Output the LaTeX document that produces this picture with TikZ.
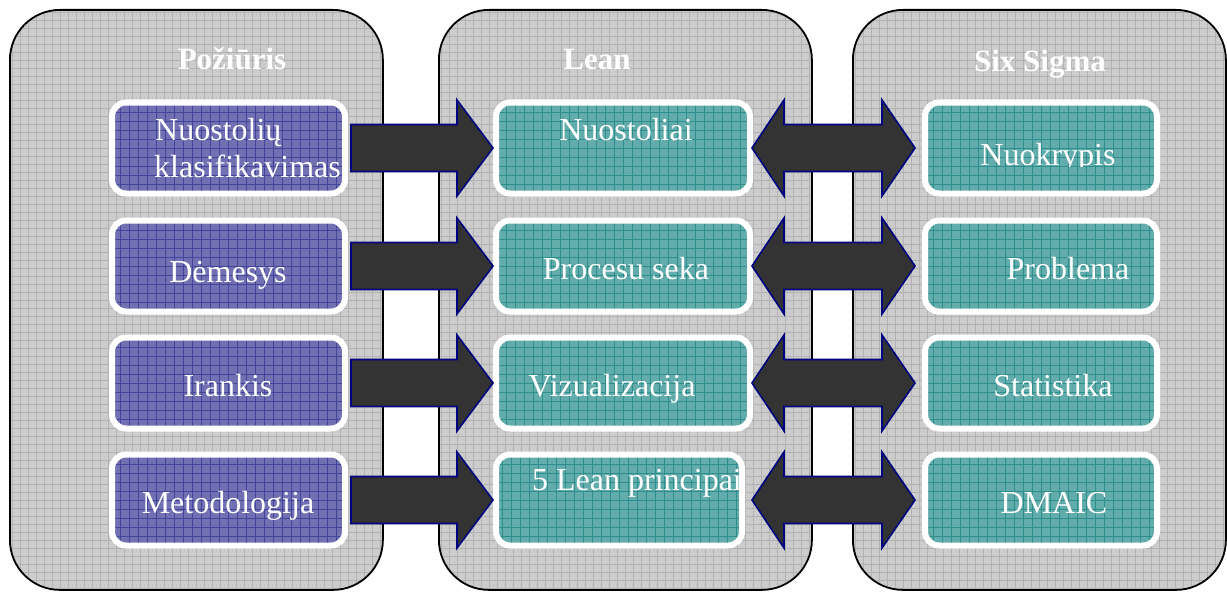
\documentclass[tikz,border=0pt]{standalone}
\usepackage{fontspec}
\setmainfont{Liberation Serif}
\usetikzlibrary{calc}
\definecolor{panelgray}{HTML}{CCCCCC}
\definecolor{panelgrid}{HTML}{B2B2B2}
\definecolor{leftfill}{HTML}{7070B2}
\definecolor{leftgrid}{HTML}{44449A}
\definecolor{tealfill}{HTML}{62ACAC}
\definecolor{tealgrid}{HTML}{2E8E8E}
\definecolor{arrowfill}{HTML}{333333}
\definecolor{arrowline}{HTML}{000080}
\begin{document}
\begin{tikzpicture}[x=1pt,y=-1pt,
  panel/.style={draw=black, line width=1.8pt, fill=panelgray, rounded corners=50pt,
    minimum width=373pt, minimum height=580pt, anchor=north west, inner sep=0pt,
    path picture={\draw[panelgrid, line width=0.4pt, step=8pt]
      (path picture bounding box.south west) grid (path picture bounding box.north east);}},
  box/.style={draw=white, line width=6pt, rounded corners=14pt, inner sep=0pt,
    minimum height=91pt},
  leftbox/.style={box, fill=leftfill, minimum width=233pt,
    path picture={\draw[leftgrid, line width=0.5pt, step=9pt]
      (path picture bounding box.south west) grid (path picture bounding box.north east);}},
  tealbox/.style={box, fill=tealfill,
    path picture={\draw[tealgrid, line width=0.5pt, step=9pt]
      (path picture bounding box.south west) grid (path picture bounding box.north east);}},
  arr/.style={draw=arrowline, fill=arrowfill, line width=1.6pt, line join=miter},
  txt/.style={text=white, font=\fontsize{32}{37}\selectfont, anchor=base, inner sep=0pt},
  ttl/.style={text=white, font=\fontsize{31}{36}\selectfont\bfseries, anchor=base, inner sep=0pt}
]
\useasboundingbox (0,0) rectangle (1227,594);

% panels
\node[panel] (p1) at (9,9) {};
\node[panel] (p2) at (438,9) {};
\node[panel] (p3) at (852,9) {};

% titles
\node[ttl] (t1) at (232,70) {Požiūris};
\node[ttl] (t2) at (597,70) {Lean};
\node[ttl] (t3) at (1040,72) {Six Sigma};

% left boxes
\node[leftbox] (l1) at (228.5,148) {};
\node[leftbox] (l2) at (228.5,266) {};
\node[leftbox] (l3) at (228.5,383) {};
\node[leftbox] (l4) at (228.5,500) {};

% middle boxes
\node[tealbox, minimum width=254pt] (m1) at (623,148) {};
\node[tealbox, minimum width=254pt] (m2) at (623,266) {};
\node[tealbox, minimum width=254pt] (m3) at (623,383) {};
\node[tealbox, minimum width=246pt] (m4) at (619,500) {};

% right boxes
\node[tealbox, minimum width=232pt] (r1) at (1041,148) {};
\node[tealbox, minimum width=232pt] (r2) at (1041,266) {};
\node[tealbox, minimum width=232pt] (r3) at (1041,383) {};
\node[tealbox, minimum width=232pt] (r4) at (1041,500) {};

% right arrows
\foreach \r in {1,2,3,4}{
  \draw[arr] let \p1=(l\r.east), \p2=(m\r.west) in
    (\x1+3pt,\y1+23.5pt) -- (\x2-36pt,\y1+23.5pt) -- (\x2-36pt,\y1+48pt) -- (\x2,\y1)
    -- (\x2-36pt,\y1-48pt) -- (\x2-36pt,\y1-23.5pt) -- (\x1+3pt,\y1-23.5pt) -- cycle;
}
% double arrows
\foreach \r/\off in {1/-1,2/-1,3/-1,4/7}{
  \draw[arr] let \p1=(m\r.east), \p2=(r\r.west) in
    (\x1+\off pt,\y1) -- (\x1+\off pt+32pt,\y1+48pt) -- (\x1+\off pt+32pt,\y1+23.5pt)
    -- (\x2-40pt,\y1+23.5pt) -- (\x2-40pt,\y1+48pt) -- (\x2-7pt,\y1)
    -- (\x2-40pt,\y1-48pt) -- (\x2-40pt,\y1-23.5pt) -- (\x1+\off pt+32pt,\y1-23.5pt)
    -- (\x1+\off pt+32pt,\y1-48pt) -- cycle;
}

% texts
\node[txt, anchor=base west] (a1) at (155,140) {Nuostolių};
\node[txt, anchor=base west] (a1b) at (154,177) {klasifikavimas};
\node[txt] (a2) at (228,282) {Dėmesys};
\node[txt] (a3) at (228,396) {Irankis};
\node[txt] (a4) at (228,513) {Metodologija};

\node[txt] (b1) at (626,140) {Nuostoliai};
\node[txt] (b2) at (626,279) {Procesu seka};
\node[txt] (b3) at (612,396) {Vizualizacija};
\node[txt] (b4) at (637,490) {5 Lean principai};

\begin{scope}
  \clip (930,100) rectangle (1150,166);
  \node[txt] (c1) at (1048,165) {Nuokrypis};
\end{scope}
\node[txt] (c2) at (1068,279) {Problema};
\node[txt] (c3) at (1053,396) {Statistika};
\node[txt] (c4) at (1054,513) {DMAIC};
\end{tikzpicture}
\end{document}
